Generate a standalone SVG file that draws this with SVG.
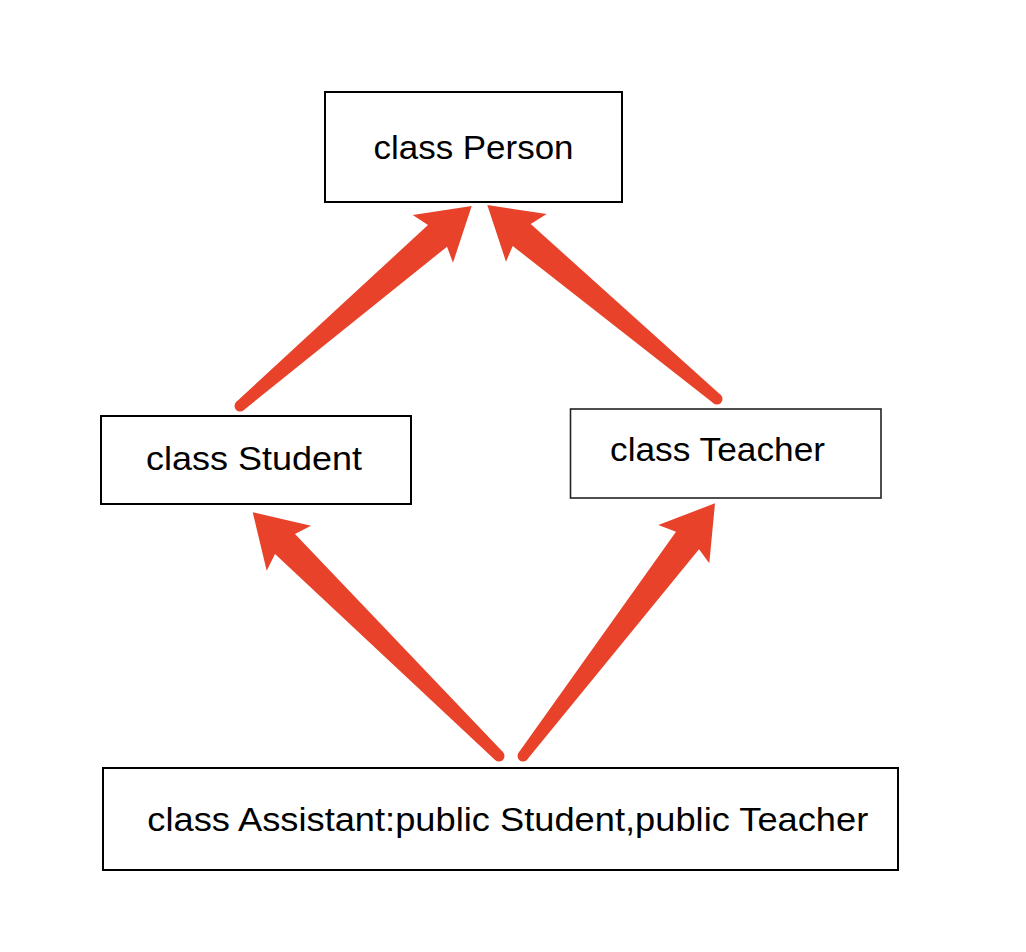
<svg xmlns="http://www.w3.org/2000/svg" width="1026" height="952" viewBox="0 0 1026 952">
<style>
.box{fill:#fff;stroke:#000;stroke-width:2}
.lbl{font-family:"Liberation Sans",Arial,sans-serif;font-size:33px;fill:#000}
.arr{fill:#E8432A;stroke:none}
</style>
<rect width="1026" height="952" fill="#fff"/>
<g id="person">
<rect class="box" x="325" y="92" width="297" height="110"/>
<text class="lbl" x="373.5" y="159" textLength="200" lengthAdjust="spacingAndGlyphs">class Person</text>
</g>
<g id="student">
<rect class="box" x="101" y="416" width="310" height="88"/>
<text class="lbl" x="146" y="469.5" textLength="216" lengthAdjust="spacingAndGlyphs">class Student</text>
</g>
<g id="teacher">
<rect class="box" x="570.5" y="409" width="310.5" height="89" style="stroke-width:1.6;stroke:#222"/>
<text class="lbl" x="610" y="461" textLength="215" lengthAdjust="spacingAndGlyphs">class Teacher</text>
</g>
<g id="assistant">
<rect class="box" x="103" y="768" width="795" height="102"/>
<text class="lbl" x="147.3" y="831" textLength="721" lengthAdjust="spacingAndGlyphs">class Assistant:public Student,public Teacher</text>
</g>
<g id="connectors">
<polygon class="arr" points="236.4,401.8 428,225 412.7,215 471.7,206 453,262.7 447,246.7 243.6,410.2"/>
<circle class="arr" cx="240" cy="406" r="5.5"/>
<polygon class="arr" points="720.5,394.8 530.7,224 546.7,214 487.3,205 506,261.7 512.7,246 713.5,403.2"/>
<circle class="arr" cx="717" cy="399" r="5.5"/>
<polygon class="arr" points="502.9,752.1 295,534 311,525.7 252.7,512.3 266.7,570.7 275,554 495.1,759.9"/>
<circle class="arr" cx="499" cy="756" r="5.5"/>
<polygon class="arr" points="518.6,752.7 676,531.7 658.3,525 715,503.3 709.3,563.3 699,549.3 527.4,759.3"/>
<circle class="arr" cx="523" cy="756" r="5.5"/>
</g>
</svg>
